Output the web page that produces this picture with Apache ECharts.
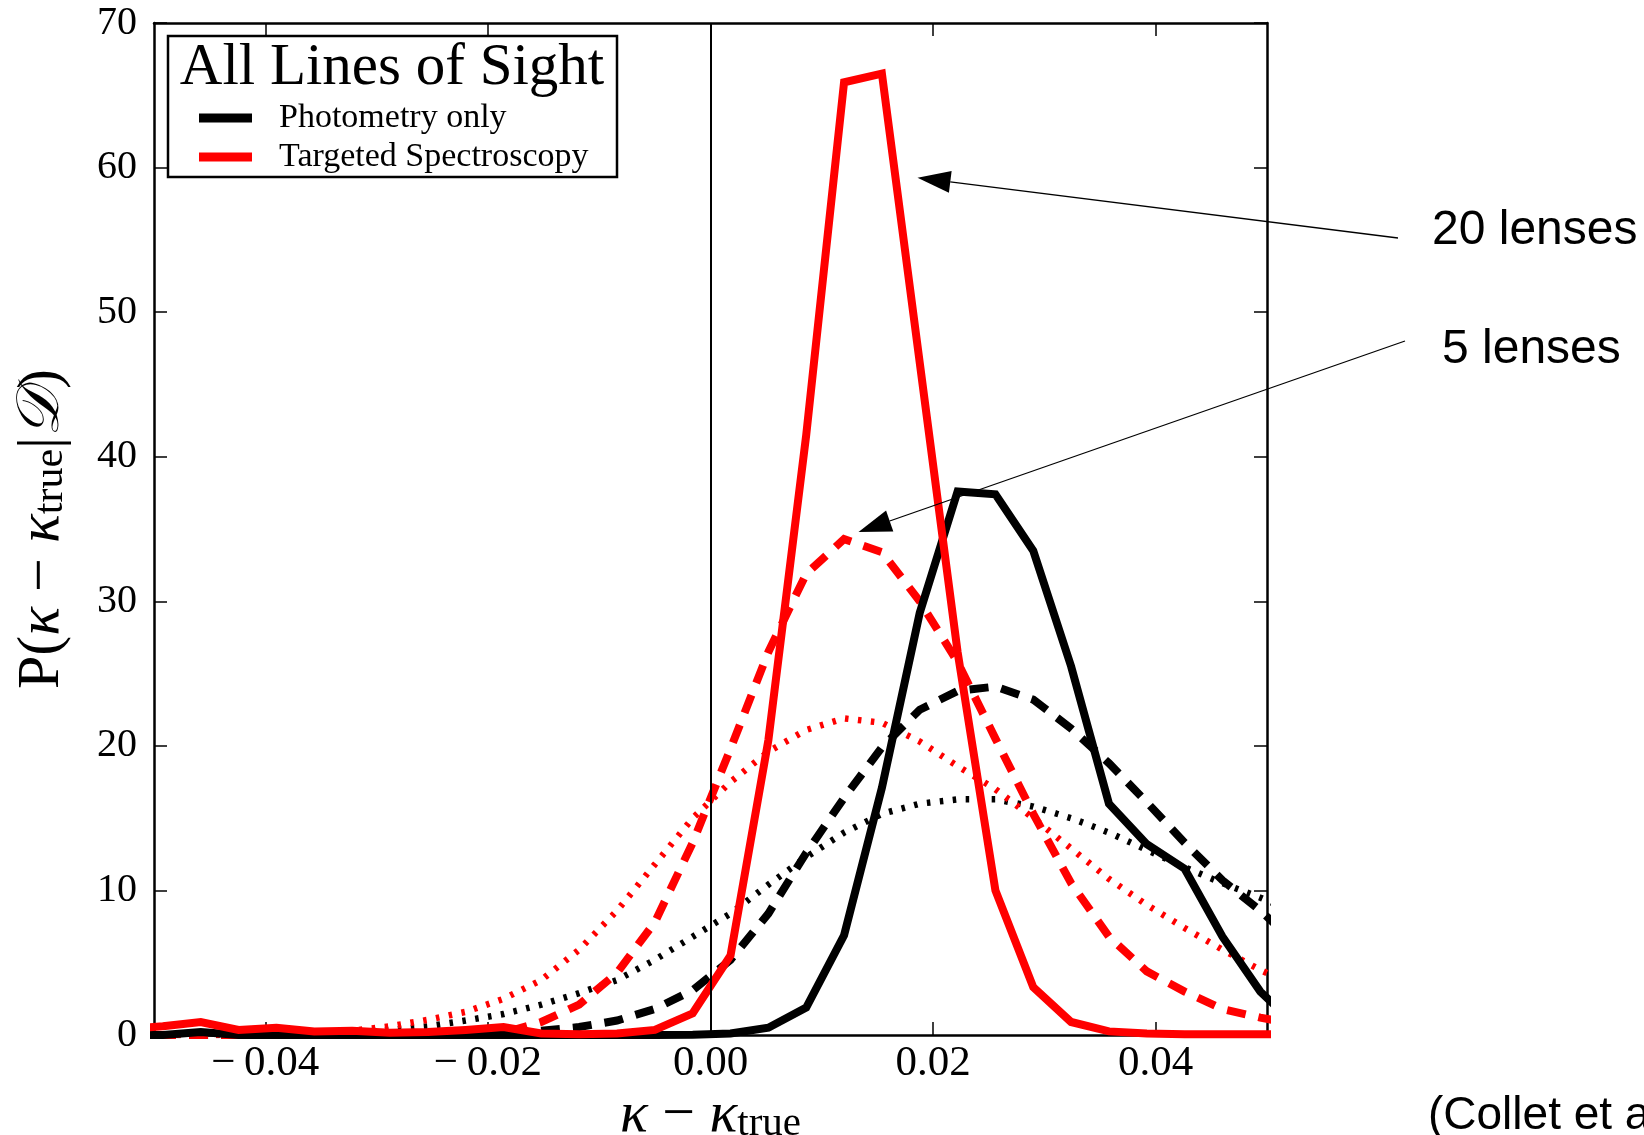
<!DOCTYPE html>
<html>
<head>
<meta charset="utf-8">
<title>P(kappa - kappa_true | D)</title>
<script src="https://cdn.jsdelivr.net/npm/echarts@6/dist/echarts.min.js"></script>
<style>
  html, body { margin: 0; padding: 0; background: #fff; }
  #chart { width: 1644px; height: 1135px; }
</style>
</head>
<body>
<div id="chart"></div>
<script>
// bin centres (kappa - kappa_true)
const xs = [-0.0526, -0.0492, -0.0458, -0.0424, -0.0390, -0.0356, -0.0322, -0.0288,
  -0.0254, -0.0220, -0.0186, -0.0152, -0.0118, -0.0084, -0.0050, -0.0016,
  0.0018, 0.0052, 0.0086, 0.0120, 0.0154, 0.0188, 0.0222, 0.0256,
  0.0290, 0.0324, 0.0358, 0.0392, 0.0426, 0.0460, 0.0494, 0.0528]

// 20 lenses (solid)
const photSolid = [0, 0, 0.2, 0, 0, 0, 0, 0,
  0, 0, 0, 0, 0, 0, 0, 0.02,
  0.1, 0.5, 1.9, 6.9, 17.1, 29.2, 37.6, 37.4,
  33.5, 25.5, 16.0, 13.2, 11.5, 6.8, 3.0, 0.5]
const specSolid = [0.4, 0.6, 0.9, 0.35, 0.5, 0.25, 0.3, 0.15,
  0.2, 0.35, 0.55, 0.1, 0.05, 0.1, 0.35, 1.5,
  5.5, 20.4, 41.5, 65.9, 66.5, 46.5, 26.5, 10.0,
  3.3, 0.9, 0.25, 0.1, 0.05, 0.05, 0.05, 0.05]

// 5 lenses (dashed)
const photDashed = [0, 0, 0, 0, 0, 0, 0, 0,
  0, 0.05, 0.15, 0.3, 0.55, 1.0, 1.8, 3.1,
  5.2, 8.4, 12.6, 16.4, 19.9, 22.5, 23.8, 24.1,
  23.2, 21.2, 18.8, 16.1, 13.3, 10.7, 8.6, 6.2]
const specDashed = [0, 0, 0, 0, 0, 0, 0, 0,
  0, 0.02, 0.15, 0.9, 2.1, 4.3, 7.8, 13.3,
  19.8, 26.5, 31.9, 34.3, 33.4, 30.0, 25.8, 20.5,
  15.3, 10.5, 6.8, 4.4, 3.0, 1.8, 1.2, 0.7]

// dotted
const photDotted = [0, 0, 0, 0, 0.05, 0.1, 0.2, 0.35,
  0.6, 1.0, 1.45, 2.1, 2.9, 3.8, 5.2, 6.8,
  8.4, 10.4, 12.3, 14.0, 15.3, 16.0, 16.3, 16.3,
  15.8, 15.0, 14.0, 12.8, 11.6, 10.5, 9.5, 8.4]
const specDotted = [0, 0, 0, 0, 0.03, 0.1, 0.3, 0.6,
  1.05, 1.6, 2.5, 3.8, 5.9, 8.6, 11.8, 15.0,
  17.5, 19.6, 21.1, 21.9, 21.6, 20.3, 18.6, 17.0,
  15.0, 12.9, 10.8, 9.0, 7.4, 5.9, 4.5, 3.3]

const xTicks = [-0.04, -0.02, 0, 0.02, 0.04]
const legendNames = ['Photometry only', 'Targeted Spectroscopy']

// arrow tips in data units
const tip20 = [0.0186, 59.3]
const tip5 = [0.0133, 34.8]

const SERIF = 'Liberation Serif'

const chart = echarts.init(document.getElementById('chart'))

const toPairs = arr => xs.map((x, i) => [x, arr[i]])

const makeSeries = (name, arr, color, width, dash) => ({
  name: name,
  type: 'line',
  data: toPairs(arr),
  showSymbol: false,
  symbol: 'none',
  clip: true,
  itemStyle: { color: color },
  lineStyle: { color: color, width: width, type: dash, cap: 'butt', join: 'miter' }
})

const fmt = v => {
  const s = Math.abs(v).toFixed(2)
  return v < 0 ? '\u2212\u2009' + s : s
}

const dotted = [3.5, 9.5]
const dashed = [19, 13]

const series = [
  makeSeries('Photometry only (dotted)', photDotted, '#000', 6.5, dotted),
  makeSeries('Targeted Spectroscopy (dotted)', specDotted, '#ff0000', 6.5, dotted),
  makeSeries('Photometry only (5 lenses)', photDashed, '#000', 8, dashed),
  makeSeries('Targeted Spectroscopy (5 lenses)', specDashed, '#ff0000', 8, dashed),
  makeSeries('Photometry only', photSolid, '#000', 8, 'solid'),
  makeSeries('Targeted Spectroscopy', specSolid, '#ff0000', 8, 'solid')
]

// kappa = 0 reference line
series[0].markLine = {
  silent: true,
  symbol: 'none',
  label: { show: false },
  lineStyle: { color: '#000', width: 2, type: 'solid' },
  data: [{ xAxis: 0 }]
}

const frame = { show: true, onZero: false, lineStyle: { color: '#000', width: 2.5 } }
const inTick = { show: true, inside: true, length: 13, lineStyle: { color: '#000', width: 1.5 } }

const nameRich = size => ({
  r: { fontFamily: SERIF, fontSize: size, color: '#000', lineHeight: size },
  i: { fontFamily: SERIF, fontSize: size, fontStyle: 'italic', color: '#000', lineHeight: size },
  s: { fontFamily: SERIF, fontSize: Math.round(size * 0.7), color: '#000',
       lineHeight: Math.round(size * 0.45), verticalAlign: 'bottom' }
})

const option = {
  animation: false,
  backgroundColor: '#fff',
  grid: { left: 154, right: 377, top: 23, bottom: 100, containLabel: false, outerBoundsMode: 'none' },
  xAxis: [
    {
      type: 'value', position: 'bottom', min: -0.05, max: 0.05,
      axisLine: frame,
      axisTick: Object.assign({ customValues: xTicks }, inTick),
      axisLabel: {
        customValues: xTicks, formatter: fmt, margin: 7,
        fontFamily: SERIF, fontSize: 43, color: '#000'
      },
      splitLine: { show: false },
      name: '{i|κ}{r| \u2212 }{i|κ}{s|true}',
      nameLocation: 'middle', nameGap: 52, nameMoveOverlap: false,
      nameTextStyle: { rich: nameRich(58) }
    },
    {
      type: 'value', position: 'top', min: -0.05, max: 0.05,
      axisLine: frame,
      axisTick: Object.assign({ customValues: xTicks }, inTick),
      axisLabel: { show: false },
      splitLine: { show: false }
    }
  ],
  yAxis: [
    {
      type: 'value', position: 'left', min: 0, max: 70, interval: 10,
      axisLine: frame,
      axisTick: inTick,
      axisLabel: { margin: 17, fontFamily: SERIF, fontSize: 40, color: '#000' },
      splitLine: { show: false },
      name: '{r|P(}{i|κ}{r| \u2212 }{i|κ}{s|true}{r||}{i|𝒟}{r|)}',
      nameLocation: 'middle', nameGap: 82, nameRotate: 90,
      nameTextStyle: { rich: nameRich(60) }
    },
    {
      type: 'value', position: 'right', min: 0, max: 70, interval: 10,
      axisLine: frame,
      axisTick: inTick,
      axisLabel: { show: false },
      splitLine: { show: false }
    }
  ],
  legend: {
    data: legendNames,
    orient: 'vertical',
    left: 194, top: 96,
    icon: 'rect', itemWidth: 53, itemHeight: 9, itemGap: 5,
    selectedMode: false,
    z: 60,
    textStyle: { fontFamily: SERIF, fontSize: 34, color: '#000', lineHeight: 34, padding: [0, 0, 0, 22] }
  },
  graphic: [
    {
      type: 'rect', id: 'legendBox', z: 50,
      shape: { x: 168, y: 36, width: 449, height: 141 },
      style: { fill: '#fff', stroke: '#000', lineWidth: 2.5 }
    },
    {
      type: 'text', id: 'legendTitle', z: 51, x: 392, y: 68,
      style: { text: 'All Lines of Sight', font: '59px "Liberation Serif"', fill: '#000',
               textAlign: 'center', textVerticalAlign: 'middle' }
    },
    {
      type: 'text', id: 'lab20', x: 1432, y: 231,
      style: { text: '20 lenses', font: '48px "Liberation Sans"', fill: '#000',
               textAlign: 'left', textVerticalAlign: 'middle' }
    },
    {
      type: 'text', id: 'lab5', x: 1442, y: 350,
      style: { text: '5 lenses', font: '48px "Liberation Sans"', fill: '#000',
               textAlign: 'left', textVerticalAlign: 'middle' }
    },
    {
      type: 'text', id: 'cite', x: 1428, y: 1116,
      style: { text: '(Collet et al. 2013)', font: '46px "Liberation Sans"', fill: '#000',
               textAlign: 'left', textVerticalAlign: 'middle' }
    }
  ],
  series: series
}

chart.setOption(option)

// annotation arrows: from the label side to a point given in data units
const arrow = (id, start, tipData) => {
  const tip = chart.convertToPixel({ seriesIndex: 0 }, tipData)
  const dx = start[0] - tip[0]
  const dy = start[1] - tip[1]
  const len = Math.sqrt(dx * dx + dy * dy)
  const ux = dx / len, uy = dy / len
  const headLen = 33, headHalf = 11
  const bx = tip[0] + ux * headLen, by = tip[1] + uy * headLen
  return [
    {
      type: 'line', id: id + 'Line', z: 40,
      shape: { x1: start[0], y1: start[1], x2: bx, y2: by },
      style: { stroke: '#000', lineWidth: 1.3 }
    },
    {
      type: 'polygon', id: id + 'Head', z: 40,
      shape: { points: [tip, [bx - uy * headHalf, by + ux * headHalf], [bx + uy * headHalf, by - ux * headHalf]] },
      style: { fill: '#000' }
    }
  ]
}

chart.setOption({
  graphic: [].concat(arrow('a20', [1398, 238], tip20), arrow('a5', [1405, 341], tip5))
})
</script>
</body>
</html>
